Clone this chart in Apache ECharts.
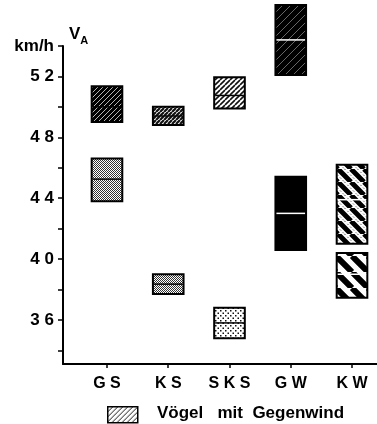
<!DOCTYPE html>
<html>
<head>
<meta charset="utf-8">
<script src="https://cdn.jsdelivr.net/npm/echarts@6/dist/echarts.min.js"></script>
<style>
  html, body { margin: 0; padding: 0; background: #fff; }
  #main { width: 377px; height: 424px; }
</style>
</head>
<body>
<div id="main"></div>
<script>
// categories and the two ranges (low / median / high) per category, km/h
const categories = ['GS', 'KS', 'SKS', 'GW', 'KW'];
const upperLow  = [49.0, 48.8, 49.9, 52.1, 41.0];
const upperMed  = [50.0, 49.4, 50.75, 54.4, 43.9];
const upperHigh = [51.35, 50.0, 51.95, 56.7, 46.2];
const lowerLow  = [43.8, 37.7, 34.8, 40.6, 37.45];
const lowerMed  = [45.25, 38.35, 35.8, 43.0, 39.0];
const lowerHigh = [46.6, 39.0, 36.8, 45.4, 40.4];
const yLabels = [36, 40, 44, 48, 52];
const yTicks = [34, 36, 38, 40, 42, 44, 46, 48, 50, 52, 54];

// fill patterns
function tile(size, draw) {
  const c = document.createElement('canvas');
  c.width = size; c.height = size;
  const ctx = c.getContext('2d');
  draw(ctx, size);
  return { image: c, repeat: 'repeat' };
}
function diag(ctx, s, back) {
  ctx.beginPath();
  for (let k = -1; k <= 1; k++) {
    if (back) { ctx.moveTo(k * s, 0); ctx.lineTo(k * s + s, s); }
    else { ctx.moveTo(k * s, s); ctx.lineTo(k * s + s, 0); }
  }
  ctx.stroke();
}
function hatch(bg, fg, s, w, back) {
  return tile(s, (ctx) => {
    ctx.fillStyle = bg; ctx.fillRect(0, 0, s, s);
    ctx.strokeStyle = fg; ctx.lineWidth = w;
    diag(ctx, s, back);
  });
}
// thick black bands with a dotted white gap between them
function dottedBands(s, w) {
  return tile(s, (ctx) => {
    ctx.fillStyle = '#fff'; ctx.fillRect(0, 0, s, s);
    ctx.strokeStyle = '#000'; ctx.lineWidth = w;
    diag(ctx, s, true);
    ctx.save();
    ctx.translate(s / 2, 0);
    ctx.strokeStyle = '#555'; ctx.lineWidth = 1; ctx.setLineDash([1.5, 2.5]);
    diag(ctx, s, true);
    ctx.restore();
  });
}
function checker() {
  return tile(2, (ctx) => {
    ctx.fillStyle = '#fff'; ctx.fillRect(0, 0, 2, 2);
    ctx.fillStyle = '#333'; ctx.fillRect(0, 0, 1, 1); ctx.fillRect(1, 1, 1, 1);
  });
}
function dots(s, r) {
  return tile(s, (ctx) => {
    ctx.fillStyle = '#fff'; ctx.fillRect(0, 0, s, s);
    ctx.fillStyle = '#111'; ctx.fillRect(0, 0, r, r);
    ctx.fillRect(s / 2, s / 2, r, r);
  });
}

const upperFill = [
  hatch('#000', '#ccc', 5, 0.9),
  hatch('#fff', '#111', 4, 2.2),
  hatch('#fff', '#111', 5, 1.6),
  hatch('#000', '#ccc', 8, 0.5),
  dottedBands(13, 5)
];
const lowerFill = [
  checker(),
  checker(),
  dots(5, 1.5),
  '#000',
  hatch('#fff', '#000', 16, 6, true)
];
const medColor = ['#000', '#000', '#000', '#fff', '#fff'];

const boxData = [];
categories.forEach((c, i) => {
  boxData.push([i + 1, upperLow[i], upperMed[i], upperHigh[i], 0]);
  boxData.push([i + 1, lowerLow[i], lowerMed[i], lowerHigh[i], 1]);
});

const font = '"Liberation Sans", Arial, sans-serif';
const chart = echarts.init(document.getElementById('main'));
chart.setOption({
  animation: false,
  grid: { left: 63, right: 0, top: 46, bottom: 60 },
  xAxis: {
    type: 'value', min: 0.282, max: 5.408,
    splitLine: { show: false },
    axisLine: { lineStyle: { color: '#000', width: 2 } },
    axisTick: { customValues: [1, 2, 3, 4, 5], length: 4, lineStyle: { color: '#000', width: 1.5 } },
    axisLabel: {
      customValues: [1, 2, 3, 4, 5], margin: 12,
      color: '#000', fontSize: 16, fontWeight: 'bold', fontFamily: font,
      formatter: (v) => categories[v - 1].split('').join(' ')
    }
  },
  yAxis: {
    type: 'value', min: 33.1, max: 54,
    splitLine: { show: false },
    name: '{v|V}{a|A}', nameLocation: 'end', nameGap: 0,
    nameTextStyle: {
      align: 'left', padding: [0, 0, 0, 6],
      rich: {
        v: { fontSize: 17, fontWeight: 'bold', color: '#000', fontFamily: font },
        a: { fontSize: 11, fontWeight: 'bold', color: '#000', fontFamily: font, padding: [12, 0, 0, 0] }
      }
    },
    axisLine: { show: true, lineStyle: { color: '#000', width: 2 } },
    axisTick: { customValues: yTicks, length: 5, lineStyle: { color: '#000', width: 1.5 } },
    axisLabel: {
      customValues: yLabels.concat([54]), margin: 9,
      color: '#000', fontSize: 17, fontWeight: 'bold', fontFamily: font,
      formatter: (v) => v === 54 ? 'km/h' : String(v).split('').join(' ')
    }
  },
  series: [{
    type: 'custom',
    clip: false,
    data: boxData,
    renderItem: (params, api) => {
      const x = api.value(0), lo = api.value(1), med = api.value(2), hi = api.value(3), part = api.value(4);
      const i = x - 1;
      const p1 = api.coord([x - 0.25, hi]);
      const p2 = api.coord([x + 0.25, lo]);
      const pm = api.coord([x, med]);
      const fill = part === 0 ? upperFill[i] : lowerFill[i];
      return {
        type: 'group',
        children: [
          {
            type: 'rect',
            shape: { x: p1[0], y: p1[1], width: p2[0] - p1[0], height: p2[1] - p1[1] },
            style: { fill: fill, stroke: '#000', lineWidth: 2 }
          },
          {
            type: 'line',
            shape: { x1: p1[0] + 1, y1: pm[1], x2: p2[0] - 1, y2: pm[1] },
            style: { stroke: medColor[i], lineWidth: 1.5 }
          }
        ]
      };
    }
  }],
  graphic: [
    {
      type: 'rect', left: 107, top: 406,
      shape: { width: 30, height: 16 },
      style: { fill: hatch('#fff', '#111', 5, 1), stroke: '#000', lineWidth: 1.5 }
    },
    {
      type: 'text', left: 157, top: 405,
      style: { text: 'Vögel   mit  Gegenwind', fill: '#000', fontSize: 17, fontWeight: 'bold', fontFamily: font }
    }
  ]
});
</script>
</body>
</html>
